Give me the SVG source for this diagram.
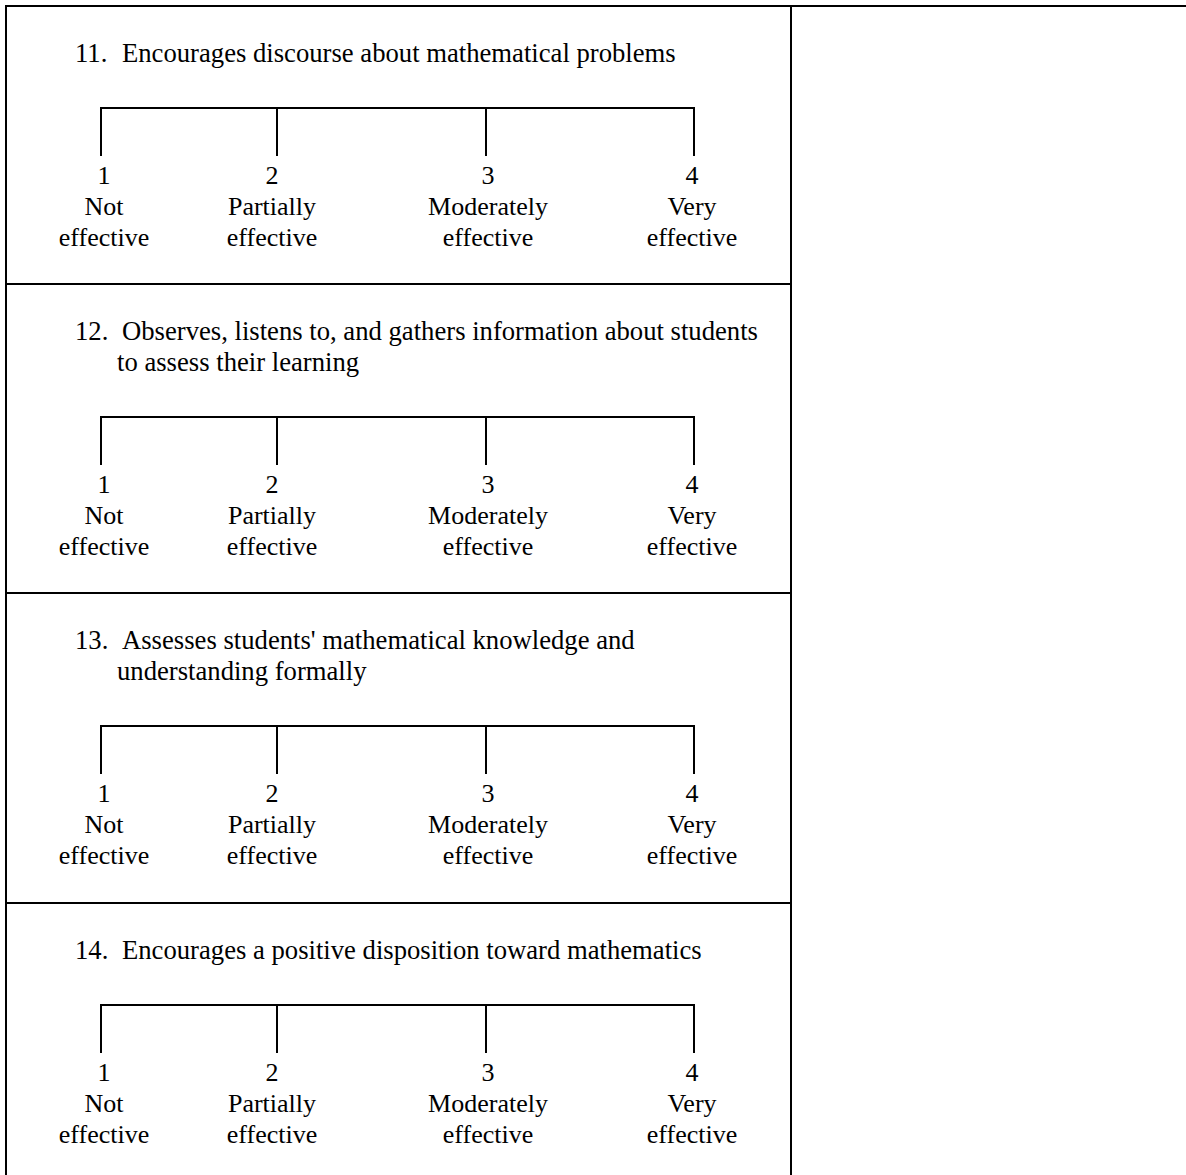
<svg xmlns="http://www.w3.org/2000/svg" width="1186" height="1175" viewBox="0 0 1186 1175">
<style>
  text { font-family: "Liberation Serif", "Times New Roman", serif; font-size: 26px; fill: #000; }
  .t { font-size: 26.67px; }
  .c { text-anchor: middle; }
  .grid { stroke: #000; stroke-width: 2; fill: none; }
  .scale { stroke: #000; stroke-width: 2; fill: none; }
</style>
<defs>
  <g id="scale">
    <path class="scale" d="M101,156 V108 H694 V156 M277,108 V156 M486,108 V156"/>
    <text class="c" x="104" y="184">1</text>
    <text class="c" x="272" y="184">2</text>
    <text class="c" x="488" y="184">3</text>
    <text class="c" x="692" y="184">4</text>
    <text class="c" x="104" y="215">Not</text>
    <text class="c" x="104" y="246">effective</text>
    <text class="c" x="272" y="215">Partially</text>
    <text class="c" x="272" y="246">effective</text>
    <text class="c" x="488" y="215">Moderately</text>
    <text class="c" x="488" y="246">effective</text>
    <text class="c" x="692" y="215">Very</text>
    <text class="c" x="692" y="246">effective</text>
  </g>
</defs>
<rect width="1186" height="1175" fill="#fff"/>
<g id="connectors" class="grid">
  <line x1="5" y1="6" x2="1186" y2="6"/>
  <line x1="6" y1="5" x2="6" y2="1175"/>
  <line x1="791" y1="5" x2="791" y2="1175"/>
  <line x1="6" y1="284" x2="791" y2="284"/>
  <line x1="6" y1="593" x2="791" y2="593"/>
  <line x1="6" y1="903" x2="791" y2="903"/>
</g>
<g id="item11">
  <text class="t" y="62"><tspan x="75">11.</tspan><tspan x="122">Encourages discourse about mathematical problems</tspan></text>
  <use href="#scale"/>
</g>
<g id="item12">
  <text class="t" y="340"><tspan x="75">12.</tspan><tspan x="122">Observes, listens to, and gathers information about students</tspan></text>
  <text class="t" x="117" y="371">to assess their learning</text>
  <use href="#scale" transform="translate(0,309)"/>
</g>
<g id="item13">
  <text class="t" y="649"><tspan x="75">13.</tspan><tspan x="122">Assesses students' mathematical knowledge and</tspan></text>
  <text class="t" x="117" y="680">understanding formally</text>
  <use href="#scale" transform="translate(0,618)"/>
</g>
<g id="item14">
  <text class="t" y="959"><tspan x="75">14.</tspan><tspan x="122">Encourages a positive disposition toward mathematics</tspan></text>
  <use href="#scale" transform="translate(0,897)"/>
</g>
</svg>
